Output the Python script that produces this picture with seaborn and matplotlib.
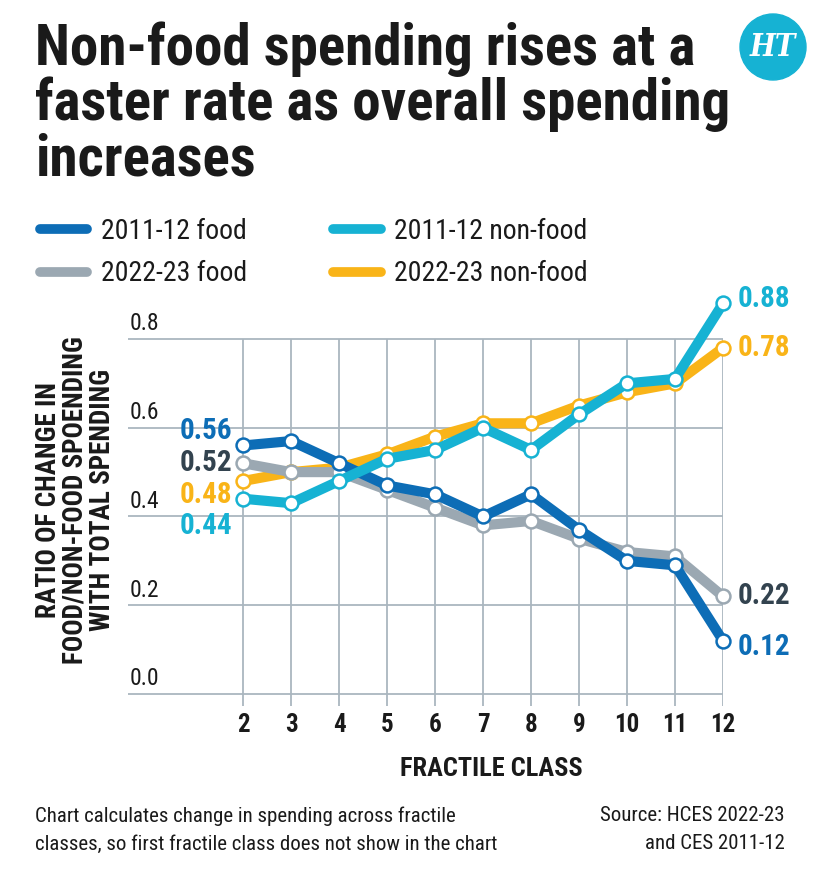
import numpy as np
import pandas as pd
import matplotlib.pyplot as plt
from matplotlib.lines import Line2D
from matplotlib.patches import Ellipse
import seaborn as sns

# data
fractile = [2, 3, 4, 5, 6, 7, 8, 9, 10, 11, 12]
food_2011 = [0.56, 0.57, 0.52, 0.47, 0.45, 0.40, 0.45, 0.37, 0.30, 0.29, 0.12]
food_2022 = [0.52, 0.50, 0.50, 0.46, 0.42, 0.38, 0.39, 0.35, 0.32, 0.31, 0.22]
nonfood_2011 = [0.44, 0.43, 0.48, 0.53, 0.55, 0.60, 0.55, 0.63, 0.70, 0.71, 0.88]
nonfood_2022 = [0.48, 0.50, 0.51, 0.54, 0.58, 0.61, 0.61, 0.65, 0.68, 0.70, 0.78]
series_names = ["2011-12 food", "2022-23 food", "2011-12 non-food", "2022-23 non-food"]
y_ticks = [0.0, 0.2, 0.4, 0.6, 0.8]

BLUE   = "#0d6db6"
GREY   = "#9ba8b2"
CYAN   = "#16b2d3"
YELLOW = "#f9b418"
GRID   = "#aab6bf"
INK    = "#1a1a1a"
SLATE  = "#33434f"

colors = {"2011-12 food": BLUE, "2022-23 food": GREY,
          "2011-12 non-food": CYAN, "2022-23 non-food": YELLOW}
label_colors = {"2011-12 food": BLUE, "2022-23 food": SLATE,
                "2011-12 non-food": CYAN, "2022-23 non-food": YELLOW}

df = pd.DataFrame({
    "fractile": fractile * 4,
    "ratio": food_2011 + food_2022 + nonfood_2011 + nonfood_2022,
    "series": np.repeat(series_names, len(fractile)),
})

sns.set_theme(style="white")
plt.rcParams["font.family"] = ["Roboto Condensed", "DejaVu Sans"]
plt.rcParams["font.stretch"] = "condensed"

W, H = 815, 882
fig = plt.figure(figsize=(W / 100, H / 100), dpi=100, facecolor="white")
ax = fig.add_axes([128 / W, 1 - 706 / H, (723 - 128) / W, (706 - 294.6) / H])
ax.set_xlim(-0.4, 12)
ax.set_ylim(-0.027, 0.9)

# grid
ax.hlines(y_ticks, -0.4, 12, color=GRID, lw=1.3, zorder=0)
ax.vlines(fractile, -0.027, 0.8, color=GRID, lw=1.3, zorder=0)
for sp in ax.spines.values():
    sp.set_visible(False)

# lines, bottom to top
for name in ["2022-23 non-food", "2022-23 food", "2011-12 food", "2011-12 non-food"]:
    sub = df[df["series"] == name]
    sns.lineplot(data=sub, x="fractile", y="ratio", ax=ax, color=colors[name],
                 lw=7.3, marker="o", ms=10, mfc="white", mec=colors[name], mew=1.8,
                 solid_joinstyle="round", solid_capstyle="round",
                 clip_on=False, legend=False)

# end labels
left_off = {"2011-12 food": 14, "2022-23 food": 0, "2022-23 non-food": -14,
            "2011-12 non-food": -27}
right_off = {"2011-12 non-food": 4, "2022-23 non-food": 0,
             "2022-23 food": 0, "2011-12 food": -6}
for name in series_names:
    sub = df[df["series"] == name]
    v0, v1 = sub["ratio"].iloc[0], sub["ratio"].iloc[-1]
    ax.annotate(f"{v0:.2f}", (fractile[0], v0), xytext=(-11, left_off[name]),
                textcoords="offset pixels", ha="right", va="center",
                fontsize=21, fontweight="bold", color=label_colors[name])
    ax.annotate(f"{v1:.2f}", (fractile[-1], v1), xytext=(15, right_off[name]),
                textcoords="offset pixels", ha="left", va="center",
                fontsize=21, fontweight="bold", color=label_colors[name])

# y tick labels sitting on the grid lines
ax.set_yticks([])
for v in y_ticks:
    ax.text(-0.36, v + 0.008, f"{v:.1f}", ha="left", va="bottom",
            fontsize=17, color=INK)

ax.set_xticks(fractile)
ax.set_xticklabels([str(f) for f in fractile], fontsize=18,
                   fontweight="bold", color=INK)
ax.tick_params(axis="x", length=0, pad=5)
ax.set_xlabel("")
ax.set_ylabel("")

fig.text(491 / W, 1 - 769 / H, "FRACTILE CLASS", ha="center", va="center",
         fontsize=19, fontweight="bold", color=INK)
fig.text(75 / W, 1 - 500 / H,
         "RATIO OF CHANGE IN\nFOOD/NON-FOOD SPOENDING\nWITH TOTAL SPENDING",
         rotation=90, ha="center", va="center", multialignment="center",
         fontsize=19.5, fontweight="bold", color=INK, linespacing=1.0)

# title
fig.text(35 / W, 1 - 21 / H,
         "Non-food spending rises at a\nfaster rate as overall spending\nincreases",
         ha="left", va="top", fontsize=41, fontweight="bold", color=INK,
         linespacing=1.0)

# logo
fig.patches.append(Ellipse((773 / W, 1 - 47 / H), 66 / W, 66 / H,
                           transform=fig.transFigure, color=CYAN))
fig.text(773 / W, 1 - 48 / H, "HT", ha="center", va="center", fontsize=22,
         fontweight="bold", fontstyle="italic", family="DejaVu Serif",
         color="white")

# legend
handles = [Line2D([], [], color=colors[n], lw=7) for n in series_names]
fig.legend(handles, series_names, loc="upper left",
           bbox_to_anchor=(15 / W, 1 - 193 / H), ncol=2, frameon=False,
           fontsize=20, handlelength=1.7, handletextpad=0.5,
           columnspacing=3.1, labelspacing=0.55, labelcolor=INK)

# footer
fig.text(35 / W, 1 - 806 / H,
         "Chart calculates change in spending across fractile\n"
         "classes, so first fractile class does not show in the chart",
         ha="left", va="top", fontsize=15, color=INK, linespacing=1.6)
fig.text(785 / W, 1 - 806 / H, "Source: HCES 2022-23\nand CES 2011-12",
         ha="right", va="top", multialignment="right", fontsize=15,
         color=INK, linespacing=1.6)

fig.savefig("out.png", dpi=100, facecolor="white")
